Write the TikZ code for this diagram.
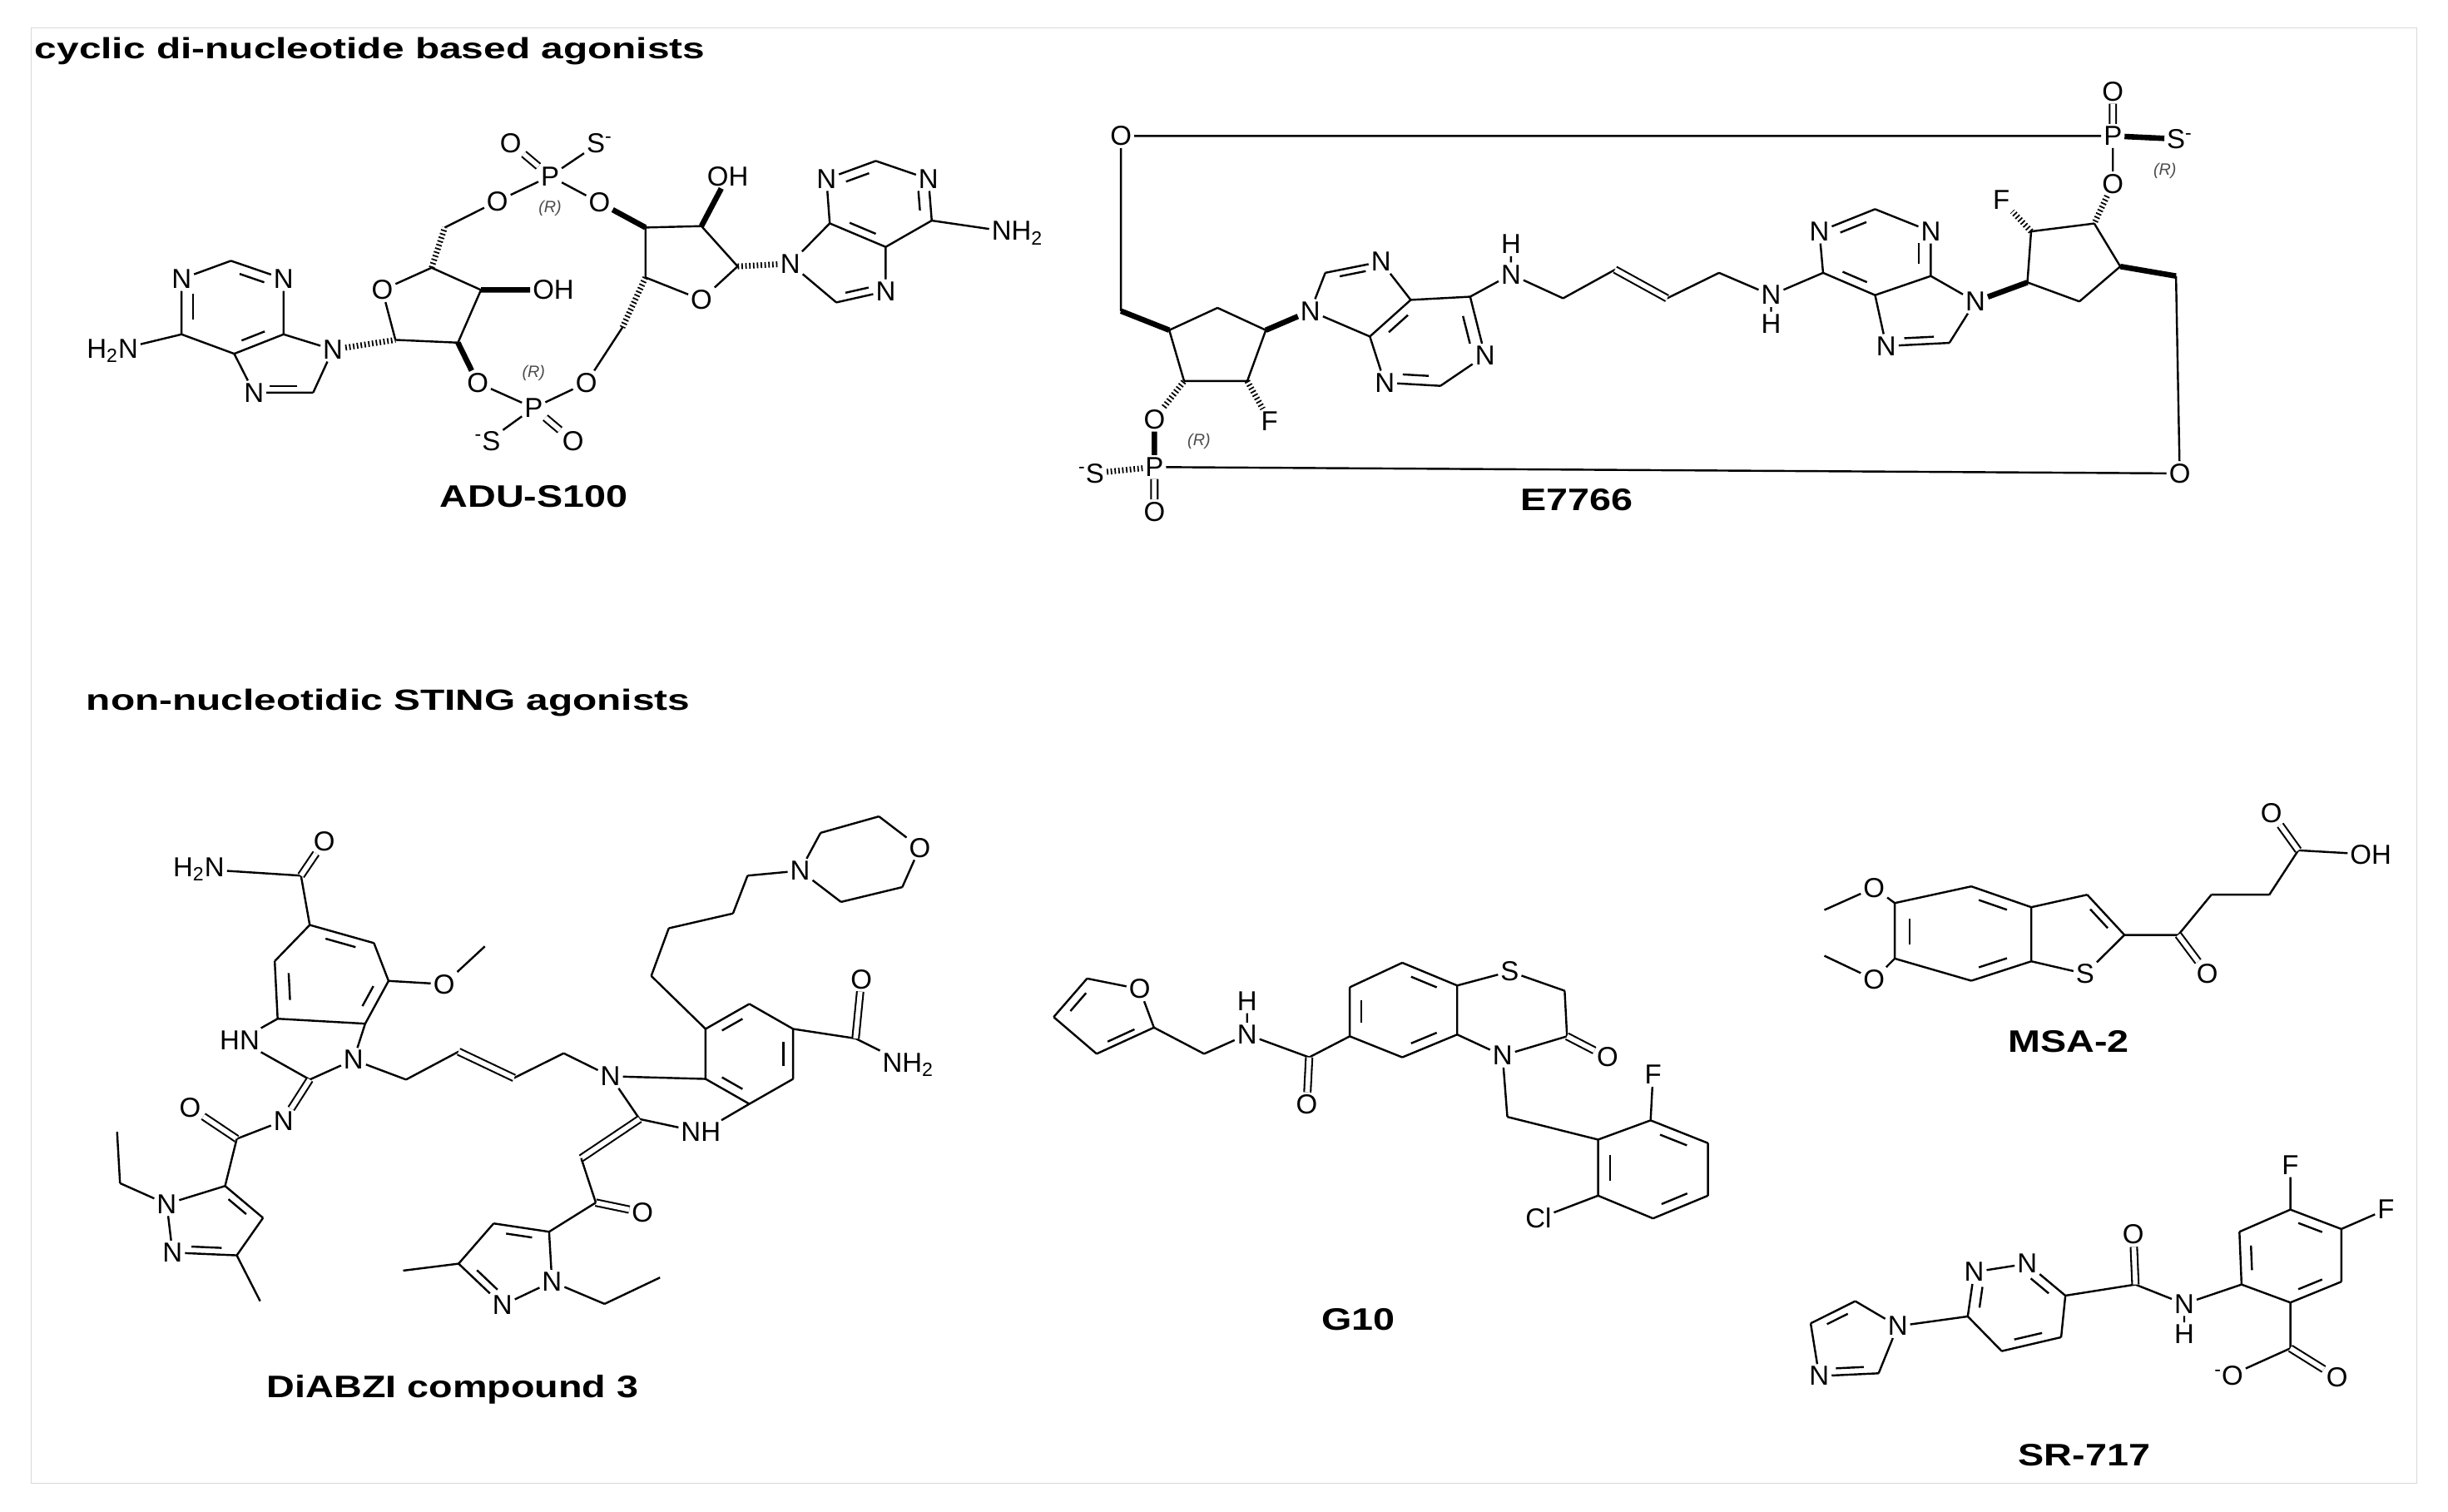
\documentclass[tikz,border=0pt]{standalone}
\usepackage{fontspec}
\setmainfont{Liberation Sans}
\usetikzlibrary{calc}
\newcommand\atomfont{\fontsize{15}{15}\selectfont}
\newcommand\dbin[3]{\draw[bond] ($(#1)!0.2!(#2)!0.22!(#3)$) -- ($(#2)!0.2!(#1)!0.22!(#3)$);}
\tikzset{
 bond/.style={line width=1.1pt},
 wdg/.style={line width=3pt},
 hsh/.style={line width=3.2pt,dash pattern=on 0.8pt off 1.3pt},
 dbo/.style={double,double distance=2.6pt,line width=0.95pt},
 atm/.style={font=\atomfont,inner sep=1.2pt},
 rlab/.style={font=\fontsize{9}{9}\selectfont\itshape,text=black!70,inner sep=0pt},
 ttl/.style={font=\fontsize{16}{16}\selectfont\bfseries,anchor=west,inner sep=0pt,xscale=1.36,transform shape},
 molname/.style={font=\fontsize{17}{17}\selectfont\bfseries,inner sep=0pt,xscale=1.25,transform shape}
}
\begin{document}
\begin{tikzpicture}[x=0.03cm,y=-0.03cm]
\useasboundingbox (0,0) rectangle (1568,968);
\fill[white] (0,0) rectangle (1568,968);
\draw[black!15,line width=0.6pt] (20,18) rectangle (1548,950);
\node[ttl] (t1) at (22,33) {cyclic di-nucleotide based agonists};
\node[ttl] (t2) at (55,450) {non-nucleotidic STING agonists};
\node[molname] (l1) at (342,318) {ADU-S100};
\node[molname] (l2) at (1010,320) {E7766};
\node[molname] (l3) at (290,890) {DiABZI compound 3};
\node[molname] (l4) at (870,845) {G10};
\node[molname] (l5) at (1325,667) {MSA-2};
\node[molname] (l6) at (1335,932) {SR-717};

% ================= ADU-S100
\begin{scope}[shift={(32.0,53.3)},xscale=0.4215,yscale=0.1777]
\coordinate (a1c2) at (275,640);
\node[atm] (a1n1) at (200,705) {N};
\node[atm] (a1n3) at (355,705) {N};
\coordinate (a1c6) at (200,905);
\coordinate (a1c4) at (355,905);
\coordinate (a1c5) at (280,975);
\node[atm] (a1nh) at (95,965) {H\textsubscript{2}N};
\node[atm] (a1n9) at (430,960) {N};
\coordinate (a1c8) at (400,1115);
\node[atm] (a1n7) at (310,1115) {N};
\coordinate (a1r6) at (278,808);
\coordinate (a1r5) at (355,1010);
\draw[bond] (a1c2)--(a1n1) (a1c2)--(a1n3) (a1n3)--(a1c4) (a1c4)--(a1c5) (a1c5)--(a1c6) (a1c6)--(a1n1) (a1c6)--(a1nh)
 (a1c4)--(a1n9) (a1n9)--(a1c8) (a1c8)--(a1n7) (a1n7)--(a1c5);
\dbin{a1c2}{a1n3}{a1r6}\dbin{a1n1}{a1c6}{a1r6}\dbin{a1c4}{a1c5}{a1r6}\dbin{a1c8}{a1n7}{a1r5}
% left ribose
\coordinate (r1c1) at (525,925);
\node[atm] (r1o) at (505,745) {O};
\coordinate (r1c4) at (580,665);
\coordinate (r1c3) at (655,745);
\coordinate (r1c2) at (620,935);
\node[atm] (r1oh) at (765,745) {OH};
\node[atm] (r1o2) at (650,1080) {O};
\coordinate (r1c5) at (600,520);
\node[atm] (r1o5) at (680,425) {O};
\node[atm] (ph1) at (760,335) {P};
\node[atm] (ph1o) at (700,215) {O};
\node[atm] (ph1s) at (835,215) {S\textsuperscript{-}};
\node[atm] (ph1o3) at (835,430) {O};
\node[rlab] (ph1r) at (760,450) {(R)};
\draw[hsh] (a1n9)--(r1c1);
\draw[bond] (r1c1)--(r1o) (r1o)--(r1c4) (r1c4)--(r1c3) (r1c3)--(r1c2) (r1c2)--(r1c1)
 (r1c5)--(r1o5) (r1o5)--(ph1) (ph1)--(ph1s) (ph1)--(ph1o3);
\draw[wdg] (r1c3)--(r1oh) (r1c2)--(r1o2);
\draw[hsh] (r1c4)--(r1c5);
\draw[dbo] (ph1)--(ph1o);
% right ribose
\coordinate (r2c3) at (905,520);
\coordinate (r2c2) at (990,515);
\coordinate (r2c1) at (1045,660);
\node[atm] (r2o) at (990,780) {O};
\coordinate (r2c4) at (905,700);
\node[atm] (r2oh) at (1030,335) {OH};
\coordinate (r2c5) at (870,880);
\node[atm] (ph2o2) at (815,1080) {O};
\node[atm] (ph2) at (735,1170) {P};
\node[atm] (ph2s) at (665,1290) {\textsuperscript{-}S};
\node[atm] (ph2o) at (795,1290) {O};
\node[rlab] (ph2r) at (735,1045) {(R)};
\draw[wdg] (ph1o3)--(r2c3) (r2c2)--(r2oh);
\draw[bond] (r2c3)--(r2c2) (r2c2)--(r2c1) (r2c1)--(r2o) (r2o)--(r2c4) (r2c4)--(r2c3)
 (r2c5)--(ph2o2) (ph2o2)--(ph2) (ph2)--(r1o2) (ph2)--(ph2s);
\draw[hsh] (r2c4)--(r2c5);
\draw[dbo] (ph2)--(ph2o);
% right adenine
\node[atm] (a2n9) at (1125,650) {N};
\node[atm] (a2n3) at (1180,345) {N};
\coordinate (a2c2) at (1255,280);
\node[atm] (a2n1) at (1335,345) {N};
\coordinate (a2c6) at (1340,495);
\coordinate (a2c5) at (1270,590);
\coordinate (a2c4) at (1185,505);
\coordinate (a2c8) at (1195,790);
\node[atm] (a2n7) at (1270,750) {N};
\node[atm] (a2nh) at (1470,540) {NH\textsubscript{2}};
\coordinate (a2r6) at (1262,435);
\coordinate (a2r5) at (1205,660);
\draw[hsh] (r2c1)--(a2n9);
\draw[bond] (a2n3)--(a2c2) (a2c2)--(a2n1) (a2n1)--(a2c6) (a2c6)--(a2c5) (a2c5)--(a2c4) (a2c4)--(a2n3)
 (a2c4)--(a2n9) (a2n9)--(a2c8) (a2c8)--(a2n7) (a2n7)--(a2c5) (a2c6)--(a2nh);
\dbin{a2n3}{a2c2}{a2r6}\dbin{a2n1}{a2c6}{a2r6}\dbin{a2c5}{a2c4}{a2r6}\dbin{a2c8}{a2n7}{a2r5}
\end{scope}

% ================= E7766
\begin{scope}[shift={(682.3,32.0)},xscale=0.4759,yscale=0.2039]
\node[atm] (eO1) at (75,270) {O};
\node[atm] (eP1) at (1410,270) {P};
\node[atm] (eP1o) at (1410,130) {O};
\node[atm] (eP1s) at (1500,280) {S\textsuperscript{-}};
\node[atm] (eO2) at (1410,420) {O};
\node[rlab] (eR1) at (1480,380) {(R)};
\coordinate (eCa) at (75,820);
\coordinate (lc1) at (140,880);
\coordinate (lc2) at (205,810);
\coordinate (lc3) at (270,880);
\coordinate (lc4) at (245,1040);
\coordinate (lc5) at (160,1040);
\node[atm] (eO3) at (120,1160) {O};
\node[atm] (eF1) at (275,1165) {F};
\node[atm] (eP2) at (120,1310) {P};
\node[atm] (eS2) at (35,1330) {\textsuperscript{-}S};
\node[atm] (eP2o) at (120,1450) {O};
\node[rlab] (eR2) at (180,1230) {(R)};
\node[atm] (eO4) at (1500,1330) {O};
\coordinate (eCb) at (1495,710);
\draw[bond] (eO1)--(eP1) (eO2)--(eP1) (eO1)--(eCa) (eCb)--(eO4) (eO4)--(eP2)
 (lc1)--(lc2) (lc2)--(lc3) (lc3)--(lc4) (lc4)--(lc5) (lc5)--(lc1);
\draw[dbo] (eP1)--(eP1o) (eP2)--(eP2o);
\draw[wdg] (eP1)--(eP1s) (eP2)--(eO3) (lc1)--(eCa);
\draw[hsh] (eP2)--(eS2) (eO3)--(lc5) (lc4)--(eF1);
% left purine
\node[atm] (ln9) at (330,820) {N};
\coordinate (lc8) at (350,700);
\node[atm] (ln7) at (425,665) {N};
\coordinate (lc5p) at (465,785);
\coordinate (lc4p) at (410,900);
\coordinate (lc6) at (545,775);
\node[atm] (ln1) at (565,960) {N};
\coordinate (lc2p) at (505,1055);
\node[atm] (ln3) at (430,1045) {N};
\coordinate (lr6) at (487,920);
\coordinate (lr5) at (385,775);
\draw[wdg] (lc3)--(ln9);
\draw[bond] (ln9)--(lc8) (lc8)--(ln7) (ln7)--(lc5p) (lc5p)--(lc4p) (lc4p)--(ln9)
 (lc5p)--(lc6) (lc6)--(ln1) (ln1)--(lc2p) (lc2p)--(ln3) (ln3)--(lc4p);
\dbin{lc8}{ln7}{lr5}\dbin{lc6}{ln1}{lr6}\dbin{lc2p}{ln3}{lr6}\dbin{lc4p}{lc5p}{lr6}
% linker
\node[atm] (nh1) at (600,705) {N};
\node[atm] (h1) at (600,610) {H};
\coordinate (k1) at (670,780);
\coordinate (k2) at (740,690);
\coordinate (k3) at (810,780);
\coordinate (k4) at (880,700);
\node[atm] (nh2) at (950,770) {N};
\node[atm] (h2) at (950,860) {H};
\draw[bond] (lc6)--(nh1) (nh1)--(h1) (nh1)--(k1) (k1)--(k2) (k3)--(k4) (k4)--(nh2) (nh2)--(h2);
\draw[dbo] (k2)--(k3);
% right purine
\coordinate (rc6) at (1020,700);
\node[atm] (rn1) at (1015,570) {N};
\coordinate (rc2) at (1090,500);
\node[atm] (rn3) at (1165,570) {N};
\coordinate (rc4) at (1165,710);
\coordinate (rc5) at (1090,770);
\node[atm] (rn7) at (1105,930) {N};
\coordinate (rc8) at (1190,920);
\node[atm] (rn9) at (1225,790) {N};
\coordinate (rr6) at (1090,635);
\coordinate (rr5) at (1155,825);
\draw[bond] (nh2)--(rc6) (rc6)--(rn1) (rn1)--(rc2) (rc2)--(rn3) (rn3)--(rc4) (rc4)--(rc5) (rc5)--(rc6)
 (rc5)--(rn7) (rn7)--(rc8) (rc8)--(rn9) (rn9)--(rc4);
\dbin{rn1}{rc2}{rr6}\dbin{rc6}{rc5}{rr6}\dbin{rc4}{rn3}{rr6}\dbin{rn7}{rc8}{rr5}
% right ring
\coordinate (q1) at (1295,730);
\coordinate (q2) at (1300,570);
\coordinate (q3) at (1385,545);
\coordinate (q4) at (1420,680);
\coordinate (q5) at (1365,790);
\node[atm] (eF2) at (1260,470) {F};
\draw[bond] (q1)--(q2) (q2)--(q3) (q3)--(q4) (q4)--(q5) (q5)--(q1);
\draw[wdg] (q1)--(rn9) (q4)--(eCb);
\draw[hsh] (eO2)--(q3) (q2)--(eF2);
\end{scope}

% ================= DiABZI (upper)
\begin{scope}[shift={(32.0,479.7)},xscale=0.3739,yscale=0.2107]
\coordinate (b1) at (445,535);
\coordinate (b2) at (555,590);
\coordinate (b3) at (580,705);
\coordinate (b4) at (540,835);
\coordinate (b5) at (390,820);
\coordinate (b6) at (385,645);
\coordinate (bc) at (490,685);
\coordinate (dcam) at (430,385);
\node[atm] (dO1) at (470,280) {O};
\node[atm] (dH2N) at (255,365) {H\textsubscript{2}N};
\node[atm] (dOme) at (675,715) {O};
\coordinate (dme) at (745,600);
\node[atm] (dN1) at (520,945) {N};
\coordinate (dC2) at (445,1005);
\node[atm] (dHN) at (325,885) {HN};
\node[atm] (dNe) at (400,1130) {N};
\coordinate (dk1) at (610,1005);
\coordinate (dk2) at (700,920);
\coordinate (dk3) at (795,1000);
\coordinate (dk4) at (880,925);
\node[atm] (dN3) at (960,995) {N};
\coordinate (e1) at (1198,775);
\coordinate (e2) at (1273,851);
\coordinate (e3) at (1273,1003);
\coordinate (e4) at (1198,1079);
\coordinate (e5) at (1123,1003);
\coordinate (e6) at (1123,851);
\coordinate (ec) at (1198,927);
\coordinate (dC2b) at (1010,1125);
\node[atm] (dNH) at (1115,1165) {NH};
\coordinate (u1) at (1030,690);
\coordinate (u2) at (1060,545);
\coordinate (u3) at (1170,500);
\coordinate (u4) at (1195,385);
\node[atm] (dNm) at (1285,370) {N};
\coordinate (m1) at (1320,255);
\coordinate (m2) at (1420,205);
\node[atm] (mO) at (1490,300) {O};
\coordinate (m3) at (1460,420);
\coordinate (m4) at (1355,465);
\coordinate (dC3) at (1380,880);
\node[atm] (dO2) at (1390,700) {O};
\node[atm] (dNH2) at (1470,960) {NH\textsubscript{2}};
\coordinate (dC4) at (320,1185);
\node[atm] (dO3) at (240,1090) {O};
\draw[bond] (b1)--(b2) (b2)--(b3) (b3)--(b4) (b4)--(b5) (b5)--(b6) (b6)--(b1)
 (b1)--(dcam) (dcam)--(dH2N) (b3)--(dOme) (dOme)--(dme)
 (b4)--(dN1) (dN1)--(dC2) (dC2)--(dHN) (dHN)--(b5) (dNe)--(dC4)
 (dN1)--(dk1) (dk1)--(dk2) (dk3)--(dk4) (dk4)--(dN3) (dN3)--(e5)
 (e1)--(e2) (e2)--(e3) (e3)--(e4) (e4)--(e5) (e5)--(e6) (e6)--(e1)
 (dN3)--(dC2b) (dC2b)--(dNH) (dNH)--(e4)
 (e6)--(u1) (u1)--(u2) (u2)--(u3) (u3)--(u4) (u4)--(dNm)
 (dNm)--(m1) (m1)--(m2) (m2)--(mO) (mO)--(m3) (m3)--(m4) (m4)--(dNm)
 (e2)--(dC3) (dC3)--(dNH2);
\draw[dbo] (dcam)--(dO1) (dC2)--(dNe) (dC4)--(dO3) (dk2)--(dk3) (dC3)--(dO2);
\dbin{b1}{b2}{bc}\dbin{b3}{b4}{bc}\dbin{b5}{b6}{bc}
\dbin{e6}{e1}{ec}\dbin{e2}{e3}{ec}\dbin{e4}{e5}{ec}
\end{scope}
% ================= DiABZI (lower)
\begin{scope}[shift={(32.0,719.6)},xscale=0.3739,yscale=0.1777]
\coordinate (dCH) at (910,125);
\coordinate (dC5) at (935,285);
\node[atm] (dO4) at (1015,320) {O};
\coordinate (s5) at (855,390);
\coordinate (s4) at (760,360);
\coordinate (s3) at (700,505);
\coordinate (sme) at (605,530);
\node[atm] (sN2) at (775,655) {N};
\node[atm] (sN1) at (860,570) {N};
\coordinate (set1) at (950,650);
\coordinate (set2) at (1045,555);
\coordinate (sc) at (790,505);
\coordinate (t5) at (300,225);
\coordinate (t4) at (365,340);
\coordinate (t3) at (320,475);
\coordinate (tme) at (360,640);
\node[atm] (tN2) at (210,465) {N};
\node[atm] (tN1) at (200,290) {N};
\coordinate (tet1) at (120,215);
\coordinate (tet2) at (115,30);
\coordinate (tc) at (280,360);
\draw[dbo] (dC2b)--(dCH) (dC5)--(dO4);
\draw[bond] (dCH)--(dC5) (dC5)--(s5) (s5)--(s4) (s4)--(s3) (s3)--(sN2) (sN2)--(sN1) (sN1)--(s5)
 (s3)--(sme) (sN1)--(set1) (set1)--(set2)
 (dC4)--(t5) (t5)--(t4) (t4)--(t3) (t3)--(tN2) (tN2)--(tN1) (tN1)--(t5) (t3)--(tme)
 (tN1)--(tet1) (tet1)--(tet2);
\dbin{s5}{s4}{sc}\dbin{s3}{sN2}{sc}\dbin{t5}{t4}{tc}\dbin{t3}{tN2}{tc}
\end{scope}

% ================= G10
\begin{scope}[shift={(629.0,522.4)},xscale=0.3059,yscale=0.2243]
\coordinate (f1) at (150,575);
\coordinate (f2) at (220,465);
\node[atm] (fO) at (330,495) {O};
\coordinate (f4) at (360,605);
\coordinate (f5) at (240,680);
\coordinate (fc) at (260,575);
\coordinate (gch) at (465,680);
\node[atm] (gN) at (555,625) {N};
\node[atm] (gH) at (555,530) {H};
\coordinate (gC) at (685,690);
\node[atm] (gO) at (680,825) {O};
\coordinate (g1) at (770,630);
\coordinate (g2) at (770,490);
\coordinate (g3) at (880,420);
\coordinate (g4) at (995,485);
\coordinate (g5) at (995,625);
\coordinate (g6) at (880,690);
\coordinate (gc) at (882,555);
\node[atm] (gS) at (1105,445) {S};
\coordinate (gch2) at (1220,500);
\coordinate (gC2) at (1225,630);
\node[atm] (gO2) at (1310,690) {O};
\node[atm] (gN2) at (1090,685) {N};
\coordinate (gch3) at (1100,860);
\coordinate (pp1) at (1290,925);
\coordinate (pp2) at (1400,870);
\coordinate (pp3) at (1520,935);
\coordinate (pp4) at (1520,1085);
\coordinate (pp5) at (1405,1150);
\coordinate (pp6) at (1290,1085);
\coordinate (ppc) at (1405,1010);
\node[atm] (gF) at (1405,740) {F};
\node[atm] (gCl) at (1165,1150) {Cl};
\draw[bond] (f1)--(f2) (f2)--(fO) (fO)--(f4) (f4)--(f5) (f5)--(f1)
 (f4)--(gch) (gch)--(gN) (gN)--(gH) (gN)--(gC) (gC)--(g1)
 (g1)--(g2) (g2)--(g3) (g3)--(g4) (g4)--(g5) (g5)--(g6) (g6)--(g1)
 (g4)--(gS) (gS)--(gch2) (gch2)--(gC2) (gC2)--(gN2) (gN2)--(g5)
 (gN2)--(gch3) (gch3)--(pp1)
 (pp1)--(pp2) (pp2)--(pp3) (pp3)--(pp4) (pp4)--(pp5) (pp5)--(pp6) (pp6)--(pp1)
 (pp2)--(gF) (pp6)--(gCl);
\draw[dbo] (gC)--(gO) (gC2)--(gO2);
\dbin{f1}{f2}{fc}\dbin{f4}{f5}{fc}
\dbin{g1}{g2}{gc}\dbin{g3}{g4}{gc}\dbin{g5}{g6}{gc}
\dbin{pp1}{pp6}{ppc}\dbin{pp2}{pp3}{ppc}\dbin{pp4}{pp5}{ppc}
\end{scope}

% ================= MSA-2
\begin{scope}[shift={(1146.0,506.4)},xscale=0.2651,yscale=0.1777]
\coordinate (n1) at (255,405);
\coordinate (n2) at (440,345);
\coordinate (n3) at (585,420);
\coordinate (n4) at (585,615);
\coordinate (n5) at (440,685);
\coordinate (n6) at (255,605);
\coordinate (nc) at (420,515);
\coordinate (th3) at (720,375);
\coordinate (th2) at (810,520);
\node[atm] (mS) at (715,660) {S};
\coordinate (thc) at (690,510);
\coordinate (mC) at (940,520);
\node[atm] (mO1) at (1010,660) {O};
\coordinate (mc1) at (1020,375);
\coordinate (mc2) at (1160,375);
\coordinate (mC2) at (1230,215);
\node[atm] (mO2) at (1165,80) {O};
\node[atm] (mOH) at (1405,230) {OH};
\node[atm] (mOa) at (205,350) {O};
\coordinate (mma) at (85,430);
\node[atm] (mOb) at (205,680) {O};
\coordinate (mmb) at (85,595);
\draw[bond] (n1)--(n2) (n2)--(n3) (n3)--(n4) (n4)--(n5) (n5)--(n6) (n6)--(n1)
 (n3)--(th3) (th3)--(th2) (th2)--(mS) (mS)--(n4)
 (th2)--(mC) (mC)--(mc1) (mc1)--(mc2) (mc2)--(mC2) (mC2)--(mOH)
 (n1)--(mOa) (mOa)--(mma) (n6)--(mOb) (mOb)--(mmb);
\draw[dbo] (mC)--(mO1) (mC2)--(mO2);
\dbin{n2}{n3}{nc}\dbin{n6}{n1}{nc}\dbin{n4}{n5}{nc}\dbin{th3}{th2}{thc}
\end{scope}

% ================= SR-717
\begin{scope}[shift={(1135.3,682.3)},xscale=0.2719,yscale=0.1777]
\node[atm] (iN1) at (295,940) {N};
\coordinate (i5) at (195,850);
\coordinate (i4) at (90,930);
\node[atm] (iN3) at (110,1120) {N};
\coordinate (i2) at (250,1110);
\coordinate (ic) at (190,1000);
\coordinate (z6) at (460,905);
\node[atm] (zN1) at (475,745) {N};
\node[atm] (zN2) at (600,715) {N};
\coordinate (z3) at (690,830);
\coordinate (z4) at (680,980);
\coordinate (z5) at (540,1030);
\coordinate (zc) at (575,875);
\coordinate (sC) at (855,790);
\node[atm] (sO) at (850,610) {O};
\node[atm] (sN) at (970,860) {N};
\node[atm] (sH) at (970,970) {H};
\coordinate (w1) at (1105,790);
\coordinate (w2) at (1100,600);
\coordinate (w3) at (1220,520);
\coordinate (w4) at (1340,590);
\coordinate (w5) at (1340,780);
\coordinate (w6) at (1220,855);
\coordinate (wc) at (1220,690);
\node[atm] (sF1) at (1220,360) {F};
\node[atm] (sF2) at (1445,520) {F};
\coordinate (sC2) at (1220,1020);
\node[atm] (sOm) at (1075,1120) {\textsuperscript{-}O};
\node[atm] (sO2) at (1330,1125) {O};
\draw[bond] (iN1)--(i5) (i5)--(i4) (i4)--(iN3) (iN3)--(i2) (i2)--(iN1)
 (iN1)--(z6) (z6)--(zN1) (zN1)--(zN2) (zN2)--(z3) (z3)--(z4) (z4)--(z5) (z5)--(z6)
 (z3)--(sC) (sC)--(sN) (sN)--(sH) (sN)--(w1)
 (w1)--(w2) (w2)--(w3) (w3)--(w4) (w4)--(w5) (w5)--(w6) (w6)--(w1)
 (w3)--(sF1) (w4)--(sF2) (w6)--(sC2) (sC2)--(sOm);
\draw[dbo] (sC)--(sO) (sC2)--(sO2);
\dbin{i5}{i4}{ic}\dbin{iN3}{i2}{ic}
\dbin{z6}{zN1}{zc}\dbin{zN2}{z3}{zc}\dbin{z4}{z5}{zc}
\dbin{w1}{w2}{wc}\dbin{w3}{w4}{wc}\dbin{w5}{w6}{wc}
\end{scope}
\end{tikzpicture}
\end{document}
